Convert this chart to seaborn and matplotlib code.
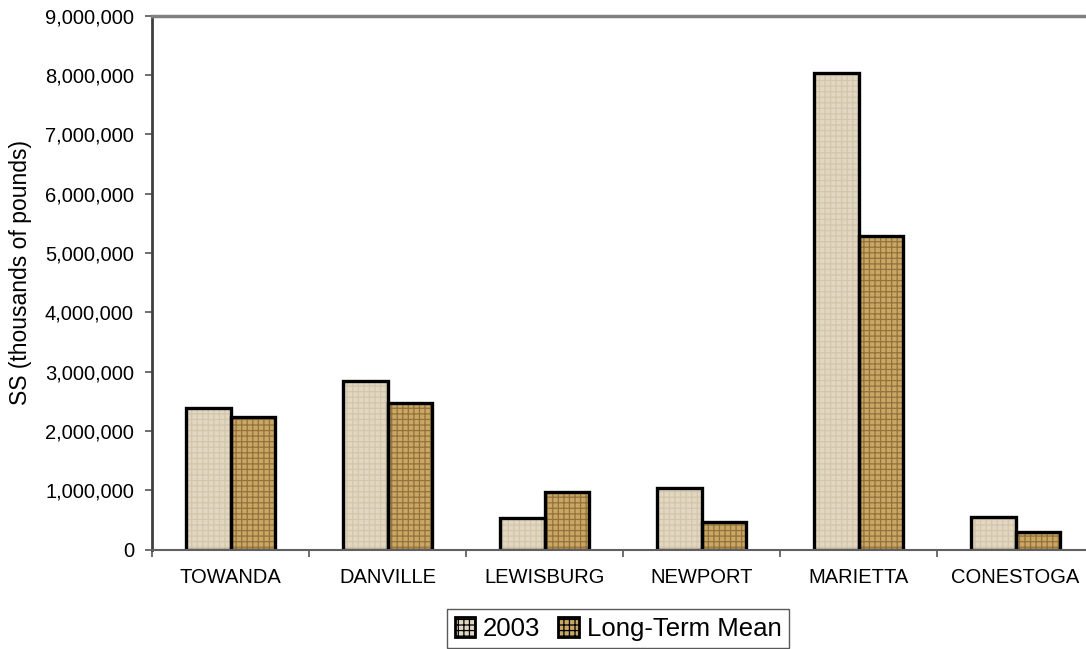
import numpy as np
import pandas as pd
import matplotlib
matplotlib.use("Agg")
import matplotlib.pyplot as plt
import seaborn as sns
from matplotlib.patches import Rectangle, Patch
from matplotlib.ticker import FuncFormatter, MultipleLocator, FixedLocator

# Suspended-sediment loads by station
stations = ["TOWANDA", "DANVILLE", "LEWISBURG", "NEWPORT", "MARIETTA", "CONESTOGA"]
series = ["2003", "Long-Term Mean"]
ss_2003 = [2380000, 2840000, 535000, 1040000, 8030000, 550000]
ss_long_term_mean = [2240000, 2470000, 977000, 467000, 5290000, 300000]

# Fill styles for the two series: base colour, weave colour, weave pattern
face_colors = ["#e2d8c2", "#c9a765"]
weave_colors = ["#d2c6ab", "#94723c"]
weave_hatches = ["+++", "+++"]

df = pd.DataFrame({
    "Station": stations * 2,
    "Series": [series[0]] * len(stations) + [series[1]] * len(stations),
    "SS": ss_2003 + ss_long_term_mean,
})

sns.set_style("white")
plt.rcParams["font.family"] = ["Liberation Sans", "DejaVu Sans"]
plt.rcParams["hatch.linewidth"] = 0.9

W, H = 1086, 649
fig = plt.figure(figsize=(W / 100, H / 100), dpi=100)
ax = fig.add_axes([152 / W, 99.5 / H, 942 / W, 533.8 / H])

sns.barplot(data=df, x="Station", y="SS", hue="Series", order=stations,
            hue_order=series, palette=face_colors, saturation=1,
            width=0.571, gap=0, legend=False, ax=ax, errorbar=None)

# Woven texture + black outline on each bar
for i, cont in enumerate(ax.containers):
    for bar in cont:
        bar.set_facecolor(face_colors[i])
        bar.set_hatch(weave_hatches[i])
        bar.set_edgecolor(weave_colors[i])
        bar.set_linewidth(0)
        x, y = bar.get_xy()
        ax.add_patch(Rectangle((x, y), bar.get_width(), bar.get_height(),
                               fill=False, edgecolor="black", linewidth=2.4,
                               zorder=bar.get_zorder() + 0.1))

ax.set_xlim(-0.5, len(stations) - 0.5)
ax.set_ylim(0, 9000000)
ax.yaxis.set_major_locator(MultipleLocator(1000000))
ax.yaxis.set_major_formatter(FuncFormatter(lambda v, p: f"{int(v):,}"))

ax.xaxis.set_minor_locator(FixedLocator(np.arange(-0.5, len(stations), 1.0)))
ax.tick_params(axis="x", which="major", length=0, pad=13, labelsize=14.5,
               labelcolor="black")
ax.tick_params(axis="x", which="minor", length=5, width=1.2, color="#555555",
               direction="out", bottom=True)
ax.tick_params(axis="y", which="major", length=5, width=1.2, color="#555555",
               direction="out", left=True, pad=8, labelsize=14.5,
               labelcolor="black")

ax.set_xlabel("")
ax.set_ylabel("SS (thousands of pounds)", fontsize=16.5, color="black")
ax.yaxis.set_label_coords(-0.127, 0.519)

for side in ["left", "bottom", "top"]:
    ax.spines[side].set_visible(True)
ax.spines["right"].set_visible(False)
ax.spines["left"].set_color("#404040")
ax.spines["left"].set_linewidth(2)
ax.spines["bottom"].set_color("#606060")
ax.spines["bottom"].set_linewidth(1.5)
ax.spines["top"].set_color("#808080")
ax.spines["top"].set_linewidth(2.5)

handles = [Patch(facecolor=face_colors[i], edgecolor=weave_colors[i],
                 hatch=weave_hatches[i], linewidth=0) for i in range(2)]
leg = fig.legend(handles, series, loc="upper center",
                 bbox_to_anchor=(618 / W, 1 - 609 / H), ncol=2, fontsize=18.5,
                 frameon=True, fancybox=False, edgecolor="#303030",
                 handlelength=0.8, handleheight=0.8, handletextpad=0.3,
                 columnspacing=0.7, borderpad=0.3, borderaxespad=0)
leg.get_frame().set_linewidth(1.0)
for h in leg.legend_handles:
    h.set_edgecolor("black")
    h.set_linewidth(2)
for t in leg.get_texts():
    t.set_color("black")

fig.savefig("out.png", dpi=100)
